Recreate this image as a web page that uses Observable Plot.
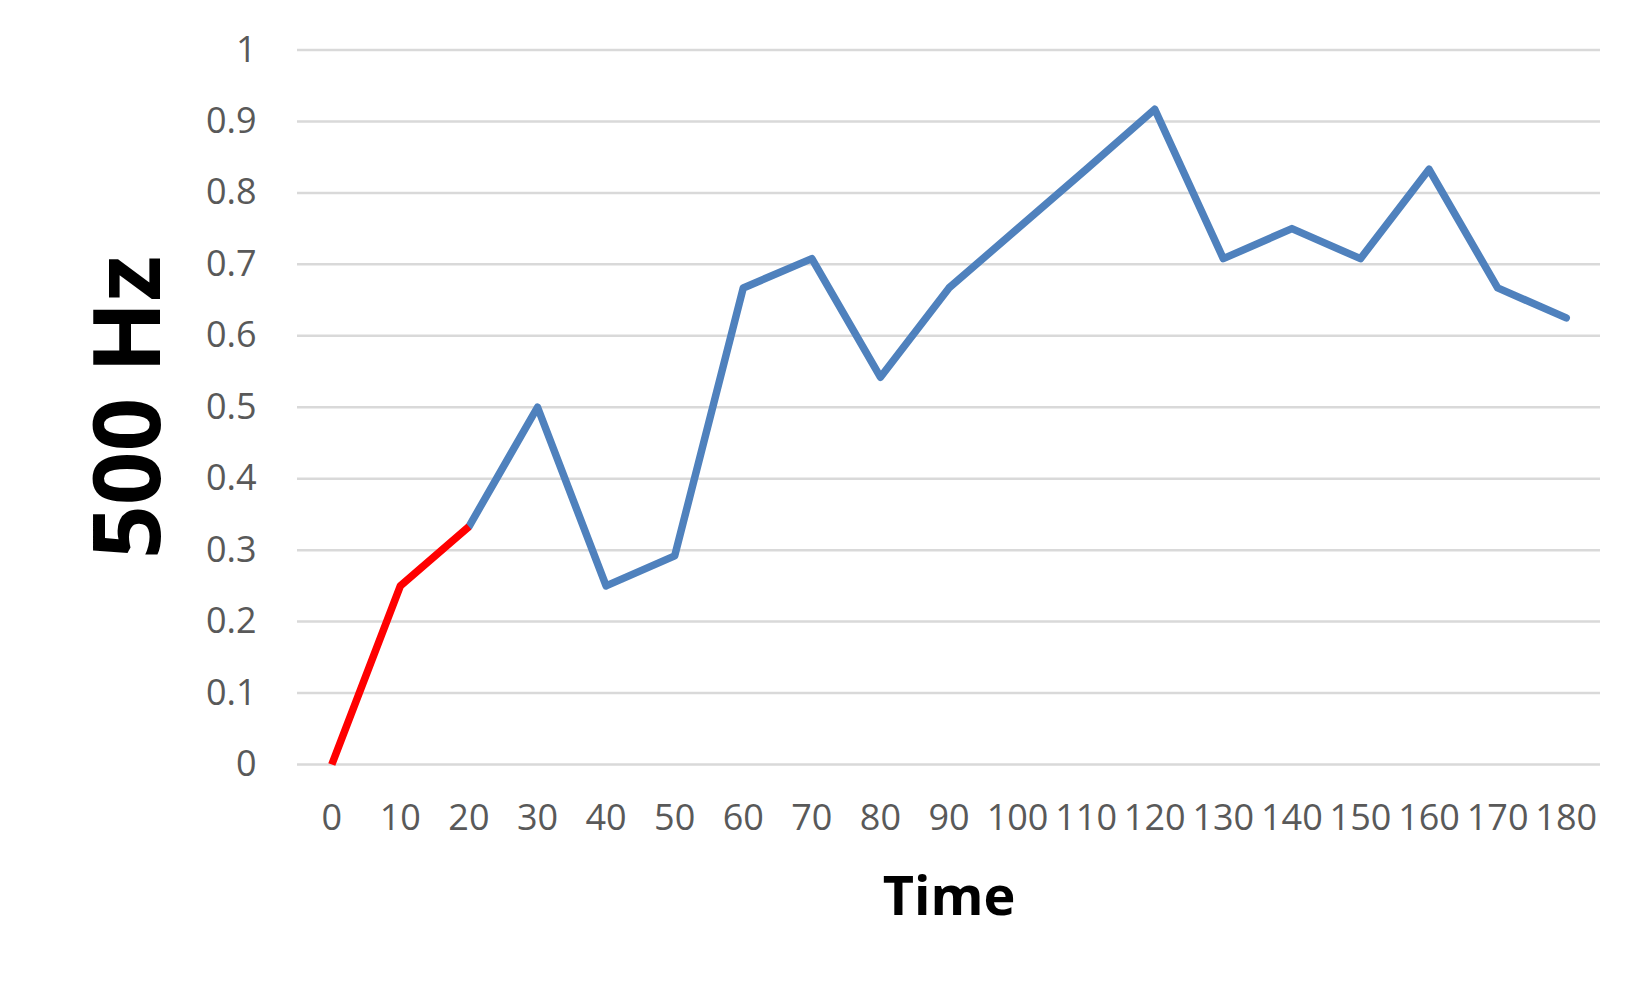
<!DOCTYPE html>
<html>
<head>
<meta charset="utf-8">
<script src="https://cdn.jsdelivr.net/npm/d3@7"></script>
<script src="https://cdn.jsdelivr.net/npm/@observablehq/plot@0.6"></script>
<style>
  html, body { margin: 0; padding: 0; background: #fff; }
  #chart { width: 1650px; height: 990px; }
</style>
</head>
<body>
<div id="chart"></div>
<script>
// Time categories (x axis)
const times = [0, 10, 20, 30, 40, 50, 60, 70, 80, 90, 100, 110, 120, 130, 140, 150, 160, 170, 180];
// 500 Hz series values
const values = [0, 0.25, 0.333, 0.5, 0.25, 0.292, 0.667, 0.708, 0.542, 0.667, 0.75, 0.833, 0.917, 0.708, 0.75, 0.708, 0.833, 0.667, 0.625];
// Segment split: first part (red) covers indices 0..2, second part (blue) 2..end
const redEndIndex = 2;
// Y tick labels
const yTicks = [0, 0.1, 0.2, 0.3, 0.4, 0.5, 0.6, 0.7, 0.8, 0.9, 1];
const xTitle = "Time";
const yTitle = "500 Hz";

const rows = times.map((t, i) => ({t, v: values[i], i}));
const redRows = rows.filter(d => d.i <= redEndIndex);
const blueRows = rows.filter(d => d.i >= redEndIndex);

const font = "'Open Sans', 'DejaVu Sans', sans-serif";

const chart = Plot.plot({
  width: 1650,
  height: 990,
  marginLeft: 297,
  marginRight: 50,
  marginTop: 49.5,
  marginBottom: 226,
  style: {fontFamily: font, background: "#fff", color: "#595959", overflow: "visible"},
  x: {type: "point", domain: times, padding: 0.5, align: 0.5, round: false},
  y: {domain: [0, 1]},
  marks: [
    Plot.ruleY(yTicks, {stroke: "#d9d9d9", strokeWidth: 2.5}),
    Plot.axisY(yTicks, {
      tickSize: 0, tickPadding: 41, fontSize: 36, fill: "#595959",
      tickFormat: d => String(+d.toFixed(1)), label: null
    }),
    Plot.axisX(times, {
      tickSize: 0, tickPadding: 40, fontSize: 36, fill: "#595959", label: null
    }),
    Plot.line(blueRows, {x: "t", y: "v", stroke: "#4F81BD", strokeWidth: 7.5, strokeLinejoin: "round", strokeLinecap: "round"}),
    Plot.line(redRows, {x: "t", y: "v", stroke: "#FF0000", strokeWidth: 7.5, strokeLinejoin: "round", strokeLinecap: "butt"}),
    Plot.text([xTitle], {
      frameAnchor: "bottom", dy: 133, text: d => d, fontSize: 54, fontWeight: "bold",
      fill: "#000", lineAnchor: "middle"
    }),
    Plot.text([yTitle], {
      frameAnchor: "left", dx: -168, rotate: -90, text: d => d, fontSize: 94, fontWeight: "bold",
      fill: "#000", lineAnchor: "middle", textAnchor: "middle"
    })
  ]
});
document.getElementById("chart").appendChild(chart);
</script>
</body>
</html>
